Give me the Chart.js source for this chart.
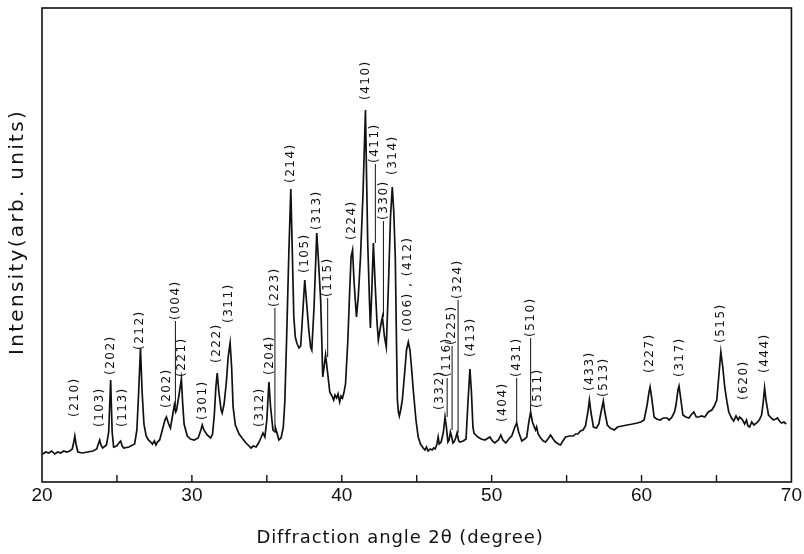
<!DOCTYPE html>
<html>
<head>
<meta charset="utf-8">
<script src="https://cdn.jsdelivr.net/npm/chart.js@4.4.1/dist/chart.umd.min.js"></script>
<style>
  html, body { margin: 0; padding: 0; background: #fff; }
  #wrap { width: 804px; height: 554px; }
</style>
</head>
<body>
<div id="wrap"><canvas id="xrd" width="804" height="554"></canvas></div>
<script>
// 2 theta (degree) and intensity (arb. units)
var angle = [
  20.05, 20.25, 20.45, 20.65, 20.85, 21.05, 21.25, 21.45, 21.65, 21.85, 22.02, 22.12, 22.19, 22.27, 22.39, 22.7,
  23.05, 23.4, 23.65, 23.78, 23.85, 23.93, 24.05, 24.3, 24.45, 24.58, 24.68, 24.78, 24.98, 25.18, 25.25, 25.35,
  25.45, 25.8, 26.18, 26.33, 26.45, 26.57, 26.68, 26.8, 26.95, 27.1, 27.25, 27.37, 27.5, 27.6, 27.7, 27.85,
  28.03, 28.2, 28.3, 28.45, 28.57, 28.75, 28.83, 28.92, 28.98, 29.15, 29.3, 29.38, 29.48, 29.69, 29.9, 30.16,
  30.42, 30.6, 30.69, 30.8, 31.02, 31.25, 31.38, 31.5, 31.6, 31.69, 31.8, 31.95, 32.02, 32.15, 32.3, 32.42,
  32.55, 32.65, 32.75, 32.9, 33.15, 33.4, 33.61, 33.75, 33.94, 34.1, 34.28, 34.45, 34.6, 34.74, 34.87, 35.0,
  35.14, 35.25, 35.41, 35.55, 35.6, 35.68, 35.8, 35.95, 36.1, 36.2, 36.33, 36.47, 36.6, 36.7, 36.8, 36.9,
  37.0, 37.15, 37.26, 37.4, 37.53, 37.65, 37.8, 37.92, 38.0, 38.15, 38.33, 38.45, 38.59, 38.67, 38.73, 38.82,
  38.92, 39.05, 39.2, 39.35, 39.46, 39.55, 39.66, 39.75, 39.86, 39.95, 40.05, 40.15, 40.25, 40.4, 40.5, 40.62,
  40.72, 40.82, 40.98, 41.1, 41.25, 41.42, 41.58, 41.66, 41.73, 41.85, 41.91, 42.0, 42.11, 42.22, 42.35, 42.44,
  42.58, 42.71, 42.85, 42.97, 43.12, 43.25, 43.37, 43.47, 43.57, 43.64, 43.71, 43.78, 43.84, 43.93, 44.04, 44.2,
  44.32, 44.44, 44.55, 44.65, 44.77, 44.95, 45.1, 45.25, 45.43, 45.55, 45.65, 45.76, 45.9, 46.03, 46.13, 46.23,
  46.35, 46.43, 46.5, 46.63, 46.78, 46.89, 46.98, 47.08, 47.16, 47.25, 47.32, 47.42, 47.49, 47.6, 47.69, 47.8,
  47.89, 48.1, 48.29, 48.42, 48.55, 48.65, 48.75, 48.82, 49.08, 49.3, 49.55, 49.88, 50.05, 50.21, 50.45, 50.61,
  50.75, 50.94, 51.2, 51.34, 51.55, 51.67, 51.8, 52.01, 52.2, 52.34, 52.48, 52.6, 52.72, 52.87, 52.93, 53.0,
  53.1, 53.27, 53.45, 53.6, 53.8, 53.93, 54.1, 54.26, 54.45, 54.59, 54.75, 54.93, 55.2, 55.45, 55.59, 55.75,
  55.92, 56.1, 56.26, 56.42, 56.52, 56.62, 56.79, 56.99, 57.15, 57.3, 57.45, 57.55, 57.72, 57.9, 58.18, 58.4,
  58.71, 59.04, 59.4, 59.71, 59.95, 60.17, 60.37, 60.5, 60.57, 60.67, 60.84, 61.0, 61.24, 61.45, 61.7, 61.85,
  62.03, 62.2, 62.3, 62.43, 62.5, 62.6, 62.76, 62.95, 63.16, 63.3, 63.49, 63.65, 63.82, 64.0, 64.22, 64.45,
  64.69, 64.85, 65.02, 65.15, 65.29, 65.42, 65.55, 65.7, 65.82, 66.0, 66.15, 66.3, 66.45, 66.55, 66.7, 66.88,
  67.0, 67.1, 67.21, 67.35, 67.5, 67.68, 67.85, 68.01, 68.12, 68.21, 68.3, 68.47, 68.65, 68.8, 68.95, 69.07,
  69.2, 69.34, 69.5, 69.65
];
var intensity = [
  28, 30, 29, 31, 28, 30, 29, 31, 30, 31, 33, 40, 46, 38, 30, 29,
  30, 31, 33, 39, 42, 37, 34, 37, 50, 102, 50, 35, 36, 40, 41, 36,
  34, 35, 38, 52, 90, 134, 90, 58, 46, 42, 40, 38, 41, 37, 40, 42,
  52, 62, 65, 58, 54, 70, 77, 70, 72, 88, 103, 80, 58, 46, 43, 42,
  44, 52, 57, 52, 47, 44, 48, 68, 95, 109, 90, 72, 69, 78, 100, 125,
  139, 115, 75, 57, 48, 43, 39, 37, 34, 36, 35, 39, 44, 49, 45, 62,
  100, 75, 52, 50, 53, 49, 42, 44, 55, 80, 149, 230, 293, 230, 165, 145,
  139, 134, 136, 170, 202, 180, 152, 135, 132, 175, 249, 220, 182, 140, 105, 115,
  127, 110, 90, 86, 82, 87, 84, 88, 80, 86, 84, 90, 98, 140, 180, 225,
  232, 200, 165, 185, 225, 290, 372, 300, 240, 180, 154, 190, 239, 200, 160, 142,
  155, 165, 145, 135, 200, 265, 295, 270, 225, 150, 82, 70, 66, 72, 82, 110,
  132, 140, 132, 115, 92, 62, 45, 38, 34, 32, 35, 31, 33, 32, 34, 33,
  38, 45, 38, 40, 50, 65, 55, 40, 42, 50, 46, 39, 40, 44, 49, 41,
  40, 41, 43, 80, 113, 90, 55, 49, 45, 43, 42, 45, 41, 39, 42, 47,
  42, 39, 44, 46, 55, 59, 50, 41, 43, 45, 60, 70, 60, 54, 52, 55,
  48, 44, 41, 40, 44, 47, 43, 40, 38, 37, 41, 45, 46, 46, 48, 48,
  51, 52, 56, 70, 82, 70, 55, 54, 58, 70, 81, 70, 57, 54, 52, 55,
  56, 57, 58, 59, 60, 62, 77, 90, 95, 85, 65, 63, 62, 64, 64, 62,
  65, 70, 77, 92, 96, 85, 67, 65, 64, 67, 70, 65, 65, 66, 65, 70,
  72, 76, 82, 105, 130, 115, 95, 80, 70, 64, 61, 66, 62, 65, 63, 58,
  62, 56, 55, 60, 57, 59, 62, 67, 80, 94, 82, 67, 64, 62, 63, 64,
  61, 59, 60, 58
];

// reflection indices, where they sit (2 theta, intensity at text foot) and leader line ends
var hklText = ['(210)', '(103)', '(202)', '(113)', '(212)', '(202)', '(004)', '(221)', '(301)', '(222)',
  '(311)', '(312)', '(204)', '(223)', '(214)', '(105)', '(313)', '(115)', '(224)', '(410)',
  '(411)', '(330)', '(314)', '(006) , (412)', '(332)', '(116)', '(225)', '(324)', '(413)', '(404)',
  '(431)', '(510)', '(511)', '(433)', '(513)', '(227)', '(317)', '(515)', '(620)', '(444)'];
var hklAngle = [22.19, 23.85, 24.58, 25.38, 26.51, 28.30, 28.90, 29.36, 30.76, 31.69,
  32.48, 34.54, 35.21, 35.54, 36.60, 37.53, 38.33, 39.06, 40.65, 41.58,
  42.24, 42.78, 43.44, 44.44, 46.56, 47.03, 47.36, 47.76, 48.62, 50.74,
  51.67, 52.60, 53.07, 56.52, 57.52, 60.57, 62.56, 65.29, 66.81, 68.21];
var hklLevel = [65, 55, 107, 55, 132, 74, 162, 105, 62, 119,
  159, 55, 107, 175, 299, 209, 252, 185, 242, 382,
  319, 262, 307, 150, 72, 105, 137, 183, 125, 60,
  105, 145, 74, 91, 85, 109, 105, 139, 82, 109];
var hklTip = [null, null, null, null, null, null, 75, null, null, null,
  null, null, null, 52, null, null, null, 125, null, null,
  239, 165, null, null, null, 65, 52, 49, null, null,
  60, 72, null, null, null, null, null, null, null, null];

var xMin = 20, xMax = 70;
var xLabelStep = 10, xTickStep = 5;

var points = angle.map(function (a, i) { return { x: a, y: intensity[i] }; });

// frame, inward ticks, hkl labels and axis titles
var decor = {
  id: 'decor',
  afterDatasetsDraw: function (chart) {
    var c = chart.ctx, area = chart.chartArea;
    var xs = chart.scales.x, ys = chart.scales.y;
    c.save();
    c.strokeStyle = '#111';
    c.lineWidth = 1.6;
    c.strokeRect(area.left, area.top, area.right - area.left, area.bottom - area.top);

    c.lineWidth = 1.4;
    for (var v = xMin + xTickStep; v < xMax; v += xTickStep) {
      var px = xs.getPixelForValue(v);
      c.beginPath();
      c.moveTo(px, area.bottom);
      c.lineTo(px, area.bottom - 7);
      c.stroke();
    }

    c.fillStyle = '#111';
    c.font = '12px "DejaVu Sans"';
    c.letterSpacing = '1.5px';
    c.textAlign = 'left';
    c.textBaseline = 'middle';
    c.lineWidth = 1;
    hklText.forEach(function (t, i) {
      var x = xs.getPixelForValue(hklAngle[i]);
      var y = ys.getPixelForValue(hklLevel[i]);
      c.save();
      c.translate(x, y);
      c.rotate(-Math.PI / 2);
      c.fillText(t, 0, 0);
      c.restore();
      if (hklTip[i] !== null) {
        c.beginPath();
        c.moveTo(x, y + 1);
        c.lineTo(x, ys.getPixelForValue(hklTip[i]));
        c.stroke();
      }
    });

    c.textAlign = 'center';
    c.font = '18px "DejaVu Sans"';
    c.letterSpacing = '0.9px';
    c.fillText('Diffraction angle 2θ (degree)', 400, 538);
    c.save();
    c.translate(18, 232);
    c.rotate(-Math.PI / 2);
    c.font = '20px "DejaVu Sans"';
    c.letterSpacing = '2.3px';
    c.fillText('Intensity(arb. units)', 0, 0);
    c.restore();
    c.restore();
  }
};

var chart = new Chart(document.getElementById('xrd').getContext('2d'), {
  type: 'line',
  data: {
    datasets: [{
      data: points,
      borderColor: '#111',
      borderWidth: 1.7,
      pointRadius: 0,
      tension: 0,
      fill: false
    }]
  },
  options: {
    responsive: false,
    animation: false,
    layout: { padding: { top: 8, right: 9, left: 0, bottom: 0 } },
    plugins: { legend: { display: false }, tooltip: { enabled: false } },
    scales: {
      x: {
        type: 'linear',
        min: xMin,
        max: xMax,
        grid: { display: false, drawTicks: false },
        border: { display: false },
        ticks: {
          stepSize: xLabelStep,
          color: '#111',
          padding: 2,
          maxRotation: 0,
          font: { family: '"Liberation Sans", Arial', size: 19 }
        },
        afterFit: function (scale) { scale.height = 72; }
      },
      y: {
        min: 0,
        max: 474,
        grid: { display: false, drawTicks: false },
        border: { display: false },
        ticks: { display: false },
        afterFit: function (scale) { scale.width = 42; }
      }
    }
  },
  plugins: [decor]
});
</script>
</body>
</html>
